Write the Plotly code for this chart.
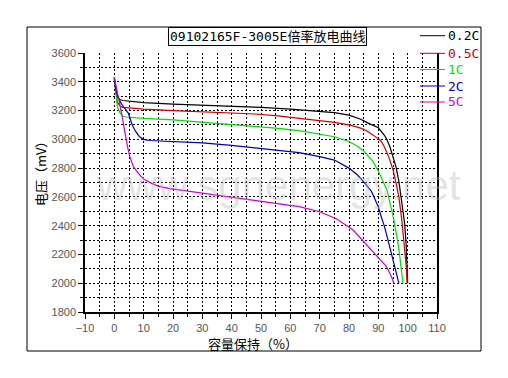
import plotly.graph_objects as go

# ---------------- data ----------------
rate_labels = ["0.2C", "0.5C", "1C", "2C", "5C"]
line_colors = ["#000000", "#cc0000", "#00dd00", "#0000aa", "#cc00cc"]

cap_02c = [0, 0.5, 1, 2, 3, 5, 10, 20, 30, 40, 50, 60, 70, 75, 80, 84, 86, 88, 90, 92, 93, 94, 95, 96, 97, 98, 99, 99.5, 100]
volt_02c = [3420, 3330, 3295, 3275, 3270, 3265, 3255, 3245, 3238, 3230, 3222, 3210, 3195, 3185, 3168, 3140, 3118, 3100, 3080, 3030, 2995, 2945, 2885, 2810, 2710, 2570, 2410, 2260, 2000]

cap_05c = [0, 0.5, 1, 2, 3, 5, 10, 20, 30, 40, 48, 55, 63, 70, 75, 80, 84, 86, 88, 90, 91, 92, 93.5, 95, 96, 97, 98, 99, 99.5, 99.8]
volt_05c = [3430, 3320, 3260, 3230, 3222, 3218, 3210, 3200, 3192, 3183, 3176, 3165, 3146, 3130, 3118, 3100, 3078, 3060, 3035, 3005, 2985, 2950, 2880, 2790, 2700, 2600, 2440, 2250, 2120, 2000]

cap_1c = [0, 0.5, 1, 2, 3, 4, 5, 10, 20, 30, 40, 48, 55, 63, 70, 75, 80, 83, 85, 88, 90, 92, 93, 94, 95, 96, 97, 97.8, 98.4]
volt_1c = [3430, 3300, 3230, 3180, 3160, 3155, 3153, 3145, 3135, 3120, 3105, 3093, 3078, 3060, 3035, 3018, 2985, 2950, 2920, 2850, 2780, 2690, 2645, 2555, 2470, 2360, 2240, 2100, 2000]

cap_2c = [0, 0.5, 1.2, 2, 3, 4.8, 6, 7.1, 8.5, 9.9, 12, 20, 30, 40, 48, 55, 63, 70, 75, 80, 83, 85, 87.6, 88.3, 90, 91.1, 92, 93.3, 94, 95, 95.6, 96.3, 97]
volt_2c = [3430, 3350, 3296, 3260, 3230, 3181, 3105, 3060, 3020, 3000, 2992, 2985, 2975, 2958, 2940, 2925, 2907, 2880, 2856, 2800, 2750, 2705, 2640, 2610, 2530, 2455, 2400, 2300, 2240, 2160, 2115, 2040, 2000]

cap_5c = [0, 0.5, 1.3, 2, 3, 3.6, 4.5, 5.3, 6.5, 8.2, 10, 12.7, 15, 18.4, 25, 29.8, 35, 40, 48, 55, 63, 70, 75.7, 81.4, 85.9, 89.9, 92.8, 94.5, 95.3]
volt_5c = [3430, 3380, 3320, 3230, 3120, 3042, 2950, 2879, 2810, 2764, 2725, 2694, 2675, 2659, 2640, 2625, 2610, 2595, 2573, 2555, 2532, 2497, 2448, 2370, 2270, 2185, 2115, 2045, 2000]

x_tick_vals = [-10, 0, 10, 20, 30, 40, 50, 60, 70, 80, 90, 100, 110]
y_tick_vals = [1800, 2000, 2200, 2400, 2600, 2800, 3000, 3200, 3400, 3600]

chart_title = "09102165F-3005E倍率放电曲线"
x_title = "容量保持（%）"
y_title = "电压（mV）"
watermark = "www.sgnenergy.net"

caps = [cap_02c, cap_05c, cap_1c, cap_2c, cap_5c]
volts = [volt_02c, volt_05c, volt_1c, volt_2c, volt_5c]

# ---------------- figure ----------------
OFF = 8  # page body margin
W, H = 508 - OFF, 378 - OFF
PL, PR, PT, PB = 85, 437, 53, 312   # plot area in window pixels
L, R, T, B = PL - OFF, W - (PR - OFF), PT - OFF, H - (PB - OFF)
pw, ph = PR - PL, PB - PT


def px(x):
    return (x - PL) / pw


def py(y):
    return (PB - y) / ph


fig = go.Figure()
for lab, col, xs, ys in zip(rate_labels, line_colors, caps, volts):
    fig.add_trace(go.Scatter(
        x=xs, y=ys, mode="lines", line=dict(color=col, width=1.2),
        name=lab, showlegend=False,
    ))

tick_font = dict(family="Liberation Sans, Arial, sans-serif", size=11, color="#555555")
grid_common = dict(showgrid=True, gridcolor="#000000", gridwidth=1, griddash="2px,2px")

fig.update_xaxes(
    range=[-10, 110], tickmode="array", tickvals=x_tick_vals,
    ticks="outside", ticklen=5, tickcolor="#000000", tickwidth=1,
    showline=True, linecolor="#000000", linewidth=1.5, zeroline=False,
    tickfont=tick_font,
    minor=dict(dtick=5, tick0=-10, ticks="outside", ticklen=3, tickcolor="#000000", **grid_common),
    **grid_common,
)
fig.update_yaxes(
    range=[1800, 3600], tickmode="array", tickvals=y_tick_vals,
    ticks="outside", ticklen=5, tickcolor="#000000", tickwidth=1,
    showline=True, linecolor="#000000", linewidth=1.5, mirror=True, zeroline=False,
    tickfont=tick_font,
    minor=dict(dtick=100, tick0=1800, ticks="outside", ticklen=3, tickcolor="#000000", **grid_common),
    **grid_common,
)

cjk = "Noto Sans CJK SC, sans-serif"
mono_cjk = "DejaVu Sans Mono, Noto Sans CJK SC, monospace"
mono = "DejaVu Sans Mono, Liberation Mono, monospace"

annotations = [
    dict(text=watermark, x=px(278), y=py(185), xref="paper", yref="paper",
         xanchor="center", yanchor="middle",
         showarrow=False, font=dict(family="Liberation Sans, Arial, sans-serif", size=42,
                                    color="rgba(185,185,185,0.4)")),
    dict(text=chart_title, x=px(267), y=py(36.5), xref="paper", yref="paper",
         xanchor="center", yanchor="middle",
         showarrow=False, font=dict(family=mono_cjk, size=13, color="#000000"),
         bordercolor="#000000", borderwidth=1, borderpad=1, bgcolor="#ffffff"),
    dict(text=x_title, x=px(253), y=py(343.5), xref="paper", yref="paper",
         xanchor="center", yanchor="middle",
         showarrow=False, font=dict(family=cjk, size=13, color="#000000")),
    dict(text=y_title, x=px(40), y=py(171), xref="paper", yref="paper", textangle=-90,
         xanchor="center", yanchor="middle",
         showarrow=False, font=dict(family=cjk, size=13, color="#000000")),
]

shapes = [
    dict(type="rect", xref="paper", yref="paper", x0=px(27), x1=px(481), y0=py(351), y1=py(27),
         line=dict(color="#000000", width=1), layer="below"),
]

# manual legend (Origin style)
legend_rows = [35.7, 53.3, 69.5, 86, 102]
for lab, col, ry in zip(rate_labels, line_colors, legend_rows):
    shapes.append(dict(type="line", xref="paper", yref="paper",
                       x0=px(420), x1=px(445), y0=py(ry), y1=py(ry),
                       line=dict(color=col, width=1)))
    annotations.append(dict(text=lab, x=px(446), y=py(ry), xref="paper", yref="paper",
                            xanchor="left", yanchor="middle", showarrow=False,
                            font=dict(family=mono, size=13, color=col)))

fig.update_layout(
    width=W, height=H,
    margin=dict(l=L, r=R, t=T, b=B, pad=0, autoexpand=False),
    paper_bgcolor="#ffffff", plot_bgcolor="#ffffff",
    showlegend=False,
    annotations=annotations,
    shapes=shapes,
)

fig.write_html("out.html")
